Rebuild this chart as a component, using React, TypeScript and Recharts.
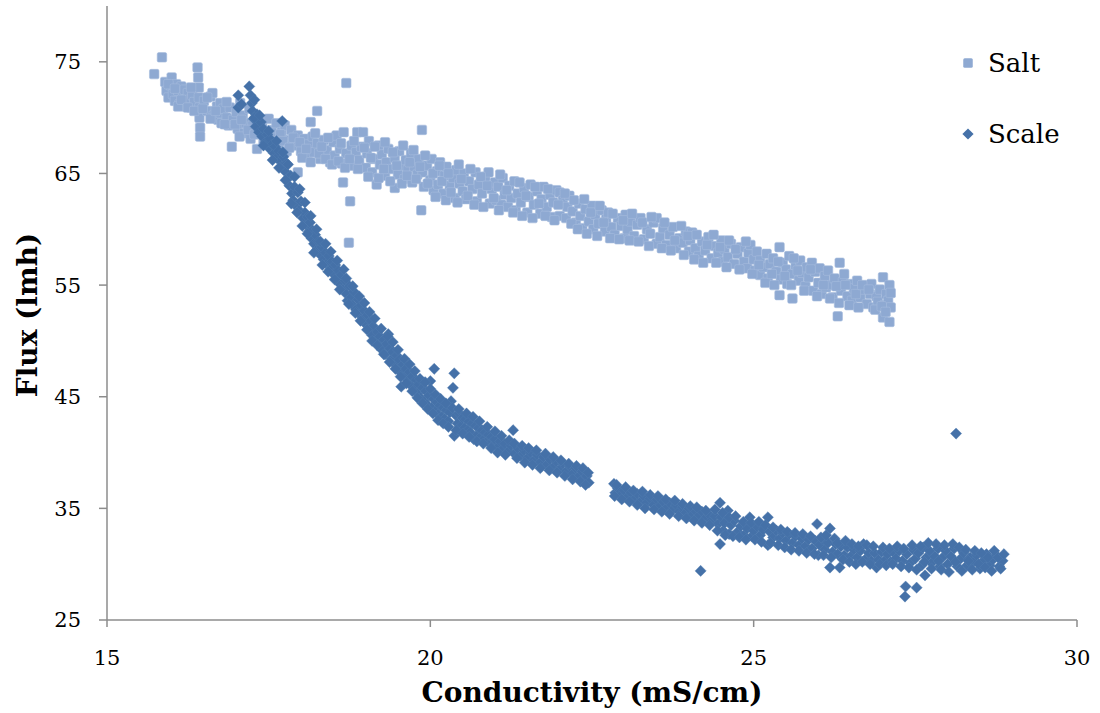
import React from "react";
import { ScatterChart, Scatter, XAxis, YAxis, Label } from "recharts";

const xTicks = [15, 20, 25, 30];
const yTicks = [25, 35, 45, 55, 65, 75];
const seriesNames = ["Salt", "Scale"];
const SALT_COLOR = "#8EA9D2";
const SCALE_COLOR = "#4571A8";

const saltPoints: number[][] = [
  [15.73,73.9],[15.85,75.4],[15.9,73.2],[15.92,72.4],[15.95,71.8],[15.98,72.9],[16.0,73.6],[16.02,72.1],[16.05,71.5],[16.07,73.0],[16.1,72.4],[16.12,71.2],[16.15,72.8],[16.18,71.9],[16.2,72.5],[16.22,71.0],[16.25,72.2],[16.28,71.6],[16.3,70.9],[16.32,72.0],[16.35,71.4],[16.4,74.5],[16.41,73.6],[16.42,72.7],[16.42,71.8],[16.43,70.9],[16.43,70.0],[16.44,69.1],[16.44,68.3],
  [16.5,71.5],[16.55,70.6],[16.6,71.9],[16.63,72.2],[16.65,70.2],[16.7,71.0],[16.72,69.8],[16.75,71.3],[16.76,70.4],[16.77,69.5],[16.8,70.8],[16.85,70.0],[16.88,69.3],[16.9,70.9],[16.93,67.4],[16.95,69.8],[17.0,70.5],[17.02,69.0],[17.06,71.3],
  [17.1,70.2],[17.12,68.6],[17.15,69.5],[17.2,70.8],[17.22,68.1],[17.25,69.3],[17.3,70.0],[17.32,67.2],[17.35,68.8],[17.4,69.6],[17.42,67.9],[17.45,68.5],[17.5,69.9],[17.52,67.6],[17.55,68.9],[17.6,68.2],[17.62,69.5],[17.65,67.4],
  [17.7,68.7],[17.75,69.3],[17.78,67.0],[17.8,68.0],[17.85,68.9],[17.9,67.5],[17.95,65.1],[17.95,68.4],[18.0,67.0],[18.05,68.1],[18.1,66.5],[18.12,67.6],[18.15,69.6],[18.18,68.3],[18.2,66.9],[18.25,70.6],[18.25,67.7],[18.3,66.3],[18.35,68.0],[18.4,67.1],[18.45,66.0],[18.5,67.8],[18.52,66.6],[18.55,68.4],[18.6,67.2],[18.63,65.9],[18.65,64.2],[18.66,68.7],[18.7,73.1],[18.7,66.8],[18.74,58.8],[18.76,62.5],[18.78,67.5],[18.8,65.7],[18.85,66.9],[18.87,68.7],[18.9,66.2],[18.93,67.4],[18.96,68.7],
  [19.0,65.5],[19.02,66.8],[19.05,67.9],[19.1,65.1],[19.12,66.3],[19.17,64.0],[19.2,67.5],[19.22,65.8],[19.25,66.7],[19.3,64.8],[19.32,66.0],[19.35,67.2],[19.4,65.4],[19.45,63.7],[19.45,66.4],[19.5,64.9],[19.52,67.0],[19.55,65.7],[19.6,64.5],[19.62,66.2],[19.65,65.3],[19.7,66.8],[19.72,64.2],[19.75,65.6],[19.8,64.9],[19.82,66.3],[19.86,61.7],[19.87,68.9],[19.88,65.1],[19.9,63.8],
  [19.95,65.7],[20.0,64.4],[20.02,66.3],[20.05,63.5],[20.1,65.2],[20.12,64.0],[20.15,66.0],[20.2,63.2],[20.22,64.8],[20.25,65.6],[20.3,63.9],[20.35,64.6],[20.38,62.8],[20.4,65.3],[20.45,64.1],[20.5,63.4],[20.52,65.0],[20.55,62.7],[20.6,64.3],[20.65,63.6],[20.7,65.1],[20.72,62.5],[20.75,64.0],[20.8,63.2],[20.85,64.7],[20.9,65.1],[20.92,62.3],[20.95,63.6],[21.0,64.2],
  [21.02,62.6],[21.05,63.8],[21.1,62.2],[21.12,64.6],[21.15,63.1],[21.2,62.0],[21.22,63.9],[21.25,62.8],[21.3,64.3],[21.32,61.7],[21.35,63.2],[21.4,62.4],[21.45,63.7],[21.5,61.5],[21.52,62.9],[21.55,64.0],[21.6,62.2],[21.65,63.4],[21.7,61.4],[21.72,62.7],[21.75,63.8],[21.8,62.0],[21.85,63.1],[21.88,61.1],[21.9,62.4],[21.95,63.5],[22.0,63.3],[22.0,61.2],
  [22.05,62.6],[22.1,61.0],[22.12,62.0],[22.15,63.0],[22.2,61.6],[22.25,60.6],[22.3,62.3],[22.32,61.2],[22.35,60.1],[22.4,61.8],[22.45,60.7],[22.5,62.1],[22.52,60.0],[22.55,61.3],[22.6,60.5],[22.65,61.7],[22.7,59.8],[22.72,60.9],[22.75,61.5],[22.8,60.2],[22.85,59.5],[22.9,61.0],[22.95,60.3],[23.0,59.2],[23.02,61.3],
  [23.05,60.0],[23.1,60.7],[23.15,59.4],[23.2,60.4],[23.25,61.0],[23.3,59.1],[23.35,60.0],[23.4,59.6],[23.45,60.6],[23.5,61.0],[23.5,58.7],[23.55,59.3],[23.6,60.1],[23.65,58.6],[23.7,59.5],[23.75,60.2],[23.8,58.3],[23.85,59.2],[23.9,58.8],[23.95,59.8],[24.0,58.0],[24.02,59.0],
  [24.05,59.7],[24.1,58.3],[24.15,57.6],[24.2,58.9],[24.25,58.1],[24.3,59.3],[24.35,57.4],[24.4,58.5],[24.45,57.9],[24.5,59.0],[24.52,57.1],[24.55,58.2],[24.6,57.5],[24.65,58.7],[24.7,56.9],[24.75,57.8],[24.8,58.4],[24.85,57.1],[24.9,56.5],[24.92,57.9],[24.95,58.6],[25.0,57.3],
  [25.02,56.3],[25.05,58.0],[25.1,55.9],[25.1,57.2],[25.15,56.6],[25.2,57.8],[25.22,55.6],[25.25,56.9],[25.3,57.4],[25.35,56.2],[25.4,58.4],[25.4,54.1],[25.42,55.5],[25.45,57.0],[25.5,56.4],[25.52,55.1],[25.55,57.6],[25.6,53.8],[25.6,56.0],[25.65,56.8],[25.7,55.4],[25.72,57.2],[25.75,56.1],[25.8,54.9],[25.82,56.6],[25.85,55.7],[25.9,57.0],[25.92,54.5],[25.95,56.2],[26.0,55.2],
  [26.02,56.5],[26.05,54.2],[26.1,55.8],[26.12,54.8],[26.15,56.3],[26.2,55.0],[26.22,53.9],[26.25,55.6],[26.3,52.2],[26.33,57.0],[26.35,54.5],[26.38,55.3],[26.4,56.0],[26.45,54.0],[26.5,55.1],[26.52,53.6],[26.55,54.7],[26.6,55.4],[26.65,53.9],[26.7,54.6],[26.75,53.3],[26.8,54.2],[26.82,55.1],[26.85,53.0],[26.9,54.0],[26.92,53.5],[26.95,54.6],[27.0,55.7],[27.0,52.1],[27.02,53.2],[27.05,54.2],[27.08,53.6],[27.1,55.0],[27.1,51.7],[27.12,53.0],
];

const saltPointsLater: number[][] = [
  [15.95,73.0],[16.05,72.6],[16.1,71.0],[16.15,71.6],[16.25,70.9],[16.3,72.7],[16.35,70.6],[16.48,70.8],[16.55,71.8],[16.6,69.9],[16.68,70.6],[16.82,69.4],[16.85,71.4],[16.98,69.4],
  [17.05,68.3],[17.08,69.8],[17.18,68.9],[17.28,68.5],[17.38,69.1],[17.48,68.0],[17.58,67.9],[17.68,68.5],
  [17.72,67.9],[17.82,67.3],[17.88,68.2],[17.98,67.8],[18.02,66.4],[18.08,67.2],[18.15,66.0],[18.22,68.6],[18.28,66.8],[18.32,67.4],[18.38,66.3],[18.42,68.2],[18.48,65.8],[18.58,66.1],[18.62,67.7],[18.68,65.5],[18.75,66.3],[18.82,67.9],[18.88,65.4],[18.98,67.3],
  [19.04,64.7],[19.08,66.4],[19.14,67.4],[19.2,64.6],[19.28,65.4],[19.3,67.8],[19.38,64.3],[19.42,66.9],[19.48,65.7],[19.56,64.1],[19.58,67.5],[19.64,64.8],[19.68,66.0],[19.74,67.1],[19.78,64.5],[19.84,65.6],[19.92,66.6],[19.96,64.1],
  [20.04,65.0],[20.08,62.9],[20.14,65.7],[20.18,64.3],[20.24,62.6],[20.28,65.0],[20.32,63.3],[20.42,62.4],[20.44,65.8],[20.48,64.5],[20.58,63.0],[20.62,65.4],[20.68,62.2],[20.78,64.7],[20.82,62.0],[20.88,63.9],[20.98,62.8],
  [21.06,61.7],[21.08,64.9],[21.18,63.5],[21.28,61.5],[21.38,64.2],[21.42,61.2],[21.48,63.0],[21.58,61.0],[21.62,63.8],[21.68,62.3],[21.78,61.2],[21.82,63.6],[21.92,60.8],[21.98,62.2],
  [22.08,63.2],[22.18,60.5],[22.22,62.6],[22.28,60.0],[22.38,62.7],[22.42,59.6],[22.48,61.5],[22.58,59.4],[22.62,62.1],[22.68,60.6],[22.78,59.2],[22.82,61.4],[22.92,59.1],[22.98,60.8],
  [23.08,59.0],[23.12,61.4],[23.22,58.9],[23.28,60.6],[23.38,58.5],[23.42,61.1],[23.58,58.3],[23.62,60.6],[23.72,58.1],[23.78,59.0],[23.88,60.3],[23.92,57.7],[23.98,59.4],
  [24.08,57.3],[24.12,59.5],[24.22,57.0],[24.28,58.6],[24.38,59.5],[24.42,57.0],[24.48,58.4],[24.58,56.6],[24.62,59.0],[24.72,58.2],[24.78,56.4],[24.88,58.9],[24.98,56.0],
  [25.08,56.8],[25.18,55.2],[25.28,56.0],[25.32,55.0],[25.38,57.1],[25.48,55.8],[25.58,55.0],[25.62,57.4],[25.68,56.3],[25.78,54.5],[25.88,56.4],[25.98,54.0],
  [26.08,55.0],[26.18,53.8],[26.28,54.9],[26.32,53.4],[26.42,55.0],[26.48,53.2],[26.58,54.2],[26.62,53.0],[26.68,55.0],[26.78,54.6],[26.88,52.8],[26.98,53.1],[27.04,52.6],[27.12,54.3],
];

const scalePoints: number[][] = [
  [17.03,72.0],[17.03,70.9],[17.08,71.2],[17.2,72.8],[17.22,72.0],[17.24,71.3],[17.25,70.6],[17.27,69.9],[17.28,71.6],[17.3,69.2],[17.32,70.3],[17.35,68.7],[17.38,69.6],[17.4,68.3],[17.42,69.0],[17.45,67.8],[17.48,68.5],[17.5,67.3],[17.52,68.1],[17.55,67.6],[17.58,66.8],[17.6,67.4],[17.62,66.4],[17.65,67.0],[17.68,66.1],[17.71,69.7],[17.7,65.6],[17.73,66.5],[17.75,65.2],[17.78,65.9],
  [17.8,64.6],[17.82,63.9],[17.84,64.8],[17.86,63.2],[17.88,62.6],[17.9,63.8],[17.92,62.1],[17.95,63.3],[17.97,61.7],[18.0,62.5],[18.03,61.0],[18.06,61.5],[18.08,60.4],[18.1,61.1],[18.12,59.8],[18.14,60.6],[18.16,59.2],[18.18,59.9],[18.2,58.7],[18.22,59.5],[18.25,58.2],[18.27,58.9],[18.3,57.7],[18.32,58.4],[18.35,57.3],[18.38,57.9],[18.4,56.9],
  [18.43,57.6],[18.45,56.4],[18.48,57.1],[18.5,56.0],[18.53,56.8],[18.55,55.5],[18.58,56.3],[18.6,55.1],[18.62,55.9],[18.65,54.6],[18.68,55.4],[18.7,54.2],[18.72,53.6],[18.75,54.9],[18.78,53.9],[18.8,53.2],[18.82,54.4],[18.85,52.8],[18.88,53.7],[18.9,52.4],[18.93,53.2],[18.95,51.9],[18.98,52.7],
  [19.0,51.5],[19.03,52.3],[19.05,51.0],[19.08,51.8],[19.1,50.5],[19.12,51.3],[19.15,50.0],[19.18,50.8],[19.2,49.6],[19.22,50.4],[19.25,49.2],[19.28,50.1],[19.3,48.8],[19.32,49.7],[19.35,50.6],[19.38,49.3],[19.4,48.4],[19.42,49.0],[19.45,47.9],[19.48,48.7],[19.5,47.5],[19.52,48.3],[19.55,45.9],[19.55,47.1],[19.58,47.9],[19.6,46.8],
  [19.62,47.5],[19.65,46.4],[19.68,47.2],[19.7,46.0],[19.72,46.8],[19.75,45.6],[19.78,46.5],[19.8,45.3],[19.82,46.1],[19.85,44.9],[19.88,45.8],[19.9,44.6],[19.93,45.5],[19.95,44.3],[19.98,45.1],[20.0,46.4],[20.02,44.0],[20.05,44.8],[20.06,47.5],[20.08,43.7],[20.1,44.5],[20.12,43.4],[20.15,44.2],[20.18,43.2],[20.2,44.0],[20.22,43.0],[20.25,43.8],[20.28,42.8],
  [20.3,43.6],[20.32,44.6],[20.35,45.8],[20.37,47.1],[20.37,41.5],[20.4,43.3],[20.42,42.6],[20.45,43.5],[20.48,42.4],[20.5,43.1],[20.53,42.2],[20.55,43.0],[20.58,42.0],[20.6,42.8],[20.62,41.8],[20.65,42.6],[20.67,41.2],[20.7,42.4],[20.73,41.6],[20.75,42.2],[20.78,41.4],[20.8,42.0],[20.83,41.2],[20.85,41.8],[20.88,41.0],[20.9,41.6],[20.93,40.8],[20.95,41.4],[20.98,40.7],
  [21.0,41.2],[21.05,40.5],[21.08,41.0],[21.12,40.3],[21.15,40.8],[21.2,40.1],[21.25,40.6],[21.28,42.0],[21.3,39.9],[21.35,40.4],[21.4,39.7],[21.45,40.2],[21.5,39.5],[21.55,40.0],[21.6,39.3],[21.65,39.8],[21.7,39.1],[21.75,39.6],[21.8,38.9],[21.85,39.4],[21.9,38.7],[21.95,39.2],[22.0,38.5],[22.05,39.0],[22.1,38.3],[22.15,38.8],[22.2,38.1],[22.25,38.6],[22.3,37.9],[22.35,38.3],[22.38,37.5],[22.42,37.9],[22.45,37.3],
  [22.84,37.2],[22.86,36.4],[22.9,36.8],[22.95,36.2],[23.0,36.6],[23.05,36.0],[23.1,36.4],[23.15,35.8],[23.2,36.3],[23.25,35.6],[23.3,36.1],[23.35,35.5],[23.4,35.9],[23.45,35.3],[23.5,35.8],[23.55,35.2],[23.6,35.6],[23.65,35.0],[23.7,35.5],[23.75,34.9],[23.8,35.3],[23.85,34.7],[23.9,35.1],[23.95,34.6],[24.0,35.0],[24.05,34.4],[24.1,34.8],[24.15,34.3],[24.18,29.4],[24.2,34.7],[24.25,34.1],[24.3,34.5],[24.35,33.9],[24.4,34.3],
  [24.45,33.6],[24.48,35.5],[24.48,31.8],[24.5,34.2],[24.53,33.0],[24.55,33.7],[24.6,34.8],[24.62,32.7],[24.65,33.5],[24.7,33.9],[24.75,32.9],[24.8,33.4],[24.85,32.6],[24.9,33.2],[24.94,34.2],[24.97,32.5],[25.0,33.0],[25.05,33.4],[25.1,32.6],[25.15,33.1],[25.22,34.2],[25.22,31.7],[25.25,32.9],[25.3,32.4],[25.35,33.0],[25.4,32.3],[25.45,32.8],[25.5,32.1],[25.55,32.7],[25.6,31.9],[25.65,32.5],[25.7,31.7],[25.75,32.3],[25.8,31.6],[25.85,32.2],[25.9,31.4],[25.95,32.1],[25.98,33.6],[26.0,30.8],
  [26.02,31.7],[26.07,32.2],[26.1,31.3],[26.15,31.9],[26.18,33.2],[26.18,29.7],[26.22,31.1],[26.27,31.8],[26.3,30.9],[26.33,29.7],[26.35,31.6],[26.4,30.8],[26.45,31.5],[26.5,30.7],[26.55,31.3],[26.6,30.6],[26.65,31.2],[26.7,31.8],[26.72,30.4],[26.78,31.0],[26.82,30.3],[26.87,31.0],[26.9,29.7],[26.93,30.4],[26.98,31.1],[27.02,30.3],[27.07,30.9],
  [27.12,30.2],[27.17,31.0],[27.2,30.5],[27.25,31.2],[27.3,30.3],[27.34,27.1],[27.35,28.0],[27.37,30.9],[27.42,30.1],[27.47,31.3],[27.5,30.5],[27.52,27.9],[27.55,31.0],[27.6,29.9],[27.62,31.5],[27.65,29.0],[27.67,30.6],[27.72,31.2],[27.75,30.1],[27.8,30.7],[27.85,31.4],[27.88,29.8],[27.92,30.6],[27.97,31.2],[28.0,30.0],[28.05,30.7],[28.1,31.4],[28.13,41.7],[28.15,29.8],[28.2,30.5],[28.25,31.0],[28.3,29.9],[28.35,30.6],[28.4,30.2],[28.45,30.8],[28.5,29.6],[28.55,30.3],[28.6,30.9],[28.65,29.9],[28.7,30.4],[28.75,30.8],[28.8,29.8],[28.85,30.3],
];

const scalePointsLater: number[][] = [
  [17.28,70.0],[17.36,70.2],[17.42,67.5],[17.5,68.8],[17.56,66.2],[17.62,67.9],[17.66,65.5],[17.72,66.9],[17.76,64.4],[17.8,65.8],[17.85,62.3],[17.9,64.7],[17.94,61.5],[17.98,63.6],[18.02,60.3],[18.06,62.4],[18.1,59.6],[18.15,61.2],[18.2,57.9],[18.24,60.0],[18.3,58.9],[18.33,56.8],[18.38,58.7],
  [18.42,56.2],[18.46,58.0],[18.52,55.5],[18.56,57.2],[18.6,54.6],[18.66,56.4],[18.7,55.6],[18.74,53.3],[18.8,54.9],[18.84,52.5],[18.9,54.0],[18.92,51.8],[18.98,53.4],[19.02,51.0],[19.06,52.6],[19.1,50.0],[19.14,52.0],[19.18,49.6],[19.24,51.1],[19.28,48.8],[19.34,50.4],[19.37,48.1],[19.42,49.9],[19.46,47.5],[19.5,49.2],[19.54,46.8],[19.6,48.4],[19.63,46.2],[19.68,47.9],[19.72,45.5],[19.76,47.3],[19.8,44.9],[19.84,46.6],[19.88,44.4],[19.92,46.3],[19.96,43.9],[20.0,45.7],[20.04,43.5],[20.08,45.2],[20.12,42.9],[20.16,44.8],[20.2,42.6],[20.24,44.4],[20.28,42.3],
  [20.34,44.0],[20.4,42.0],[20.44,43.9],[20.5,41.7],[20.56,43.5],[20.6,41.4],[20.66,43.2],[20.72,41.0],[20.76,42.8],[20.82,40.8],[20.88,42.3],[20.94,40.4],[21.0,41.9],[21.04,40.0],[21.1,41.5],[21.16,39.8],[21.22,41.1],[21.3,40.8],[21.34,39.5],[21.42,40.6],[21.46,39.1],[21.52,40.4],[21.58,38.9],[21.64,40.2],[21.7,38.6],[21.78,39.9],[21.84,38.4],[21.9,39.6],[21.96,38.2],[22.02,39.3],[22.08,37.9],[22.14,39.0],[22.2,37.6],[22.26,38.8],[22.32,37.4],[22.36,38.6],[22.4,37.1],[22.44,38.2],
  [22.85,36.1],[22.88,37.1],[22.96,35.8],[23.02,36.9],[23.08,35.6],[23.14,36.6],[23.2,35.3],[23.28,36.5],[23.32,35.0],[23.4,36.2],[23.46,34.9],[23.52,36.1],[23.58,34.7],[23.64,35.8],[23.7,34.5],[23.78,35.7],[23.84,34.3],[23.9,35.4],[23.96,34.1],[24.02,35.2],[24.08,33.9],[24.12,35.1],[24.2,33.7],[24.26,34.8],[24.32,33.5],[24.4,34.9],[24.44,33.0],[24.52,34.6],[24.56,32.6],[24.62,34.2],[24.68,32.5],[24.72,34.3],[24.78,32.4],[24.84,33.8],[24.88,32.2],[24.96,33.7],[25.02,32.2],[25.08,33.8],[25.12,32.0],[25.18,33.5],[25.26,31.9],[25.3,33.3],[25.38,31.7],[25.42,33.1],[25.48,31.5],[25.52,32.9],[25.58,31.3],[25.64,32.8],[25.7,31.2],[25.76,32.7],[25.82,31.0],[25.88,32.5],[25.94,30.9],
  [26.04,32.4],[26.08,30.8],[26.12,32.6],[26.2,30.6],[26.25,32.3],[26.3,31.9],[26.38,30.4],[26.42,32.1],[26.48,30.2],[26.52,31.8],[26.58,30.0],[26.62,31.6],[26.68,30.2],[26.75,31.7],[26.8,30.0],[26.85,31.6],[26.95,30.0],[27.0,31.5],[27.05,29.9],[27.1,31.4],[27.15,30.0],[27.22,31.6],[27.28,29.8],[27.32,31.4],[27.4,29.7],[27.45,31.7],[27.52,29.5],[27.58,31.6],[27.64,30.2],[27.7,31.9],[27.75,29.6],[27.82,31.8],[27.86,30.3],[27.9,29.5],[27.95,31.7],[28.02,29.3],[28.08,31.8],[28.12,30.2],[28.18,31.5],[28.22,29.4],[28.28,31.3],[28.32,30.3],[28.38,29.5],[28.42,31.2],[28.48,30.0],[28.52,31.0],[28.58,29.7],[28.62,30.6],[28.68,29.4],[28.72,31.2],[28.78,30.6],[28.82,29.6],[28.87,30.9],
];

const saltData = saltPoints.concat(saltPointsLater).map(([x, y]) => ({ x, y }));
const scaleData = scalePoints.concat(scalePointsLater).map(([x, y]) => ({ x, y }));

const SquareShape = (p: any) => {
  const s = 9.5;
  return (
    <rect x={p.cx - s / 2} y={p.cy - s / 2} width={s} height={s} rx={1.5}
      fill={SALT_COLOR} stroke="#A6BCDD" strokeWidth={0.6} />
  );
};

const DiamondShape = (p: any) => {
  const r = 5.6;
  const { cx, cy } = p;
  return (
    <polygon points={`${cx},${cy - r} ${cx + r},${cy} ${cx},${cy + r} ${cx - r},${cy}`}
      fill={SCALE_COLOR} stroke="#5680B4" strokeWidth={0.4} />
  );
};

const FONT = "'DejaVu Serif', Georgia, serif";

const LegendBox = () => (
  <div style={{ position: "absolute", left: 955, top: 43, width: 140, height: 120, fontFamily: FONT, fontSize: 26, color: "#000" }}>
    <svg style={{ position: "absolute", left: 4, top: 11 }} width={18} height={18}>
      <rect x={4.25} y={4.25} width={9.5} height={9.5} rx={1.5} fill={SALT_COLOR} />
    </svg>
    <span style={{ position: "absolute", left: 33, top: 5, lineHeight: "30px", whiteSpace: "nowrap" }}>{seriesNames[0]}</span>
    <svg style={{ position: "absolute", left: 4, top: 82 }} width={18} height={18}>
      <polygon points="9,3.4 14.6,9 9,14.6 3.4,9" fill={SCALE_COLOR} />
    </svg>
    <span style={{ position: "absolute", left: 33, top: 76, lineHeight: "30px", whiteSpace: "nowrap" }}>{seriesNames[1]}</span>
  </div>
);

export default function App() {
  return (
    <div style={{ position: "absolute", left: 0, top: 0, width: 1100, height: 713, background: "#fff" }}>
      <ScatterChart width={1100} height={713} margin={{ top: 6, right: 23, bottom: 0, left: 0 }}>
        <XAxis
          type="number" dataKey="x" domain={[15, 30]} ticks={xTicks} interval={0}
          height={93} tickSize={7} tickMargin={23}
          axisLine={{ stroke: "#8C8C8C", strokeWidth: 1.5 }}
          tickLine={{ stroke: "#8C8C8C", strokeWidth: 1.5 }}
          tick={{ fontFamily: FONT, fontSize: 21, fill: "#000" }}
        >
          <Label
            content={() => (
              <text x={592} y={702} textAnchor="middle" fontFamily={FONT} fontWeight="bold" fontSize={28} fill="#000">
                Conductivity (mS/cm)
              </text>
            )}
          />
        </XAxis>
        <YAxis
          type="number" dataKey="y" domain={[25, 80]} ticks={yTicks} interval={0}
          width={107} tickSize={8} tickMargin={18}
          axisLine={{ stroke: "#8C8C8C", strokeWidth: 1.5 }}
          tickLine={{ stroke: "#8C8C8C", strokeWidth: 1.5 }}
          tick={{ fontFamily: FONT, fontSize: 21, fill: "#000" }}
        >
          <Label
            content={() => (
              <text x={37} y={315} transform="rotate(-90, 37, 315)" textAnchor="middle" fontFamily={FONT} fontWeight="bold" fontSize={28} fill="#000">
                Flux (lmh)
              </text>
            )}
          />
        </YAxis>
        <Scatter name="Salt" data={saltData} shape={SquareShape} isAnimationActive={false} />
        <Scatter name="Scale" data={scaleData} shape={DiamondShape} isAnimationActive={false} />
      </ScatterChart>
      <LegendBox />
    </div>
  );
}
